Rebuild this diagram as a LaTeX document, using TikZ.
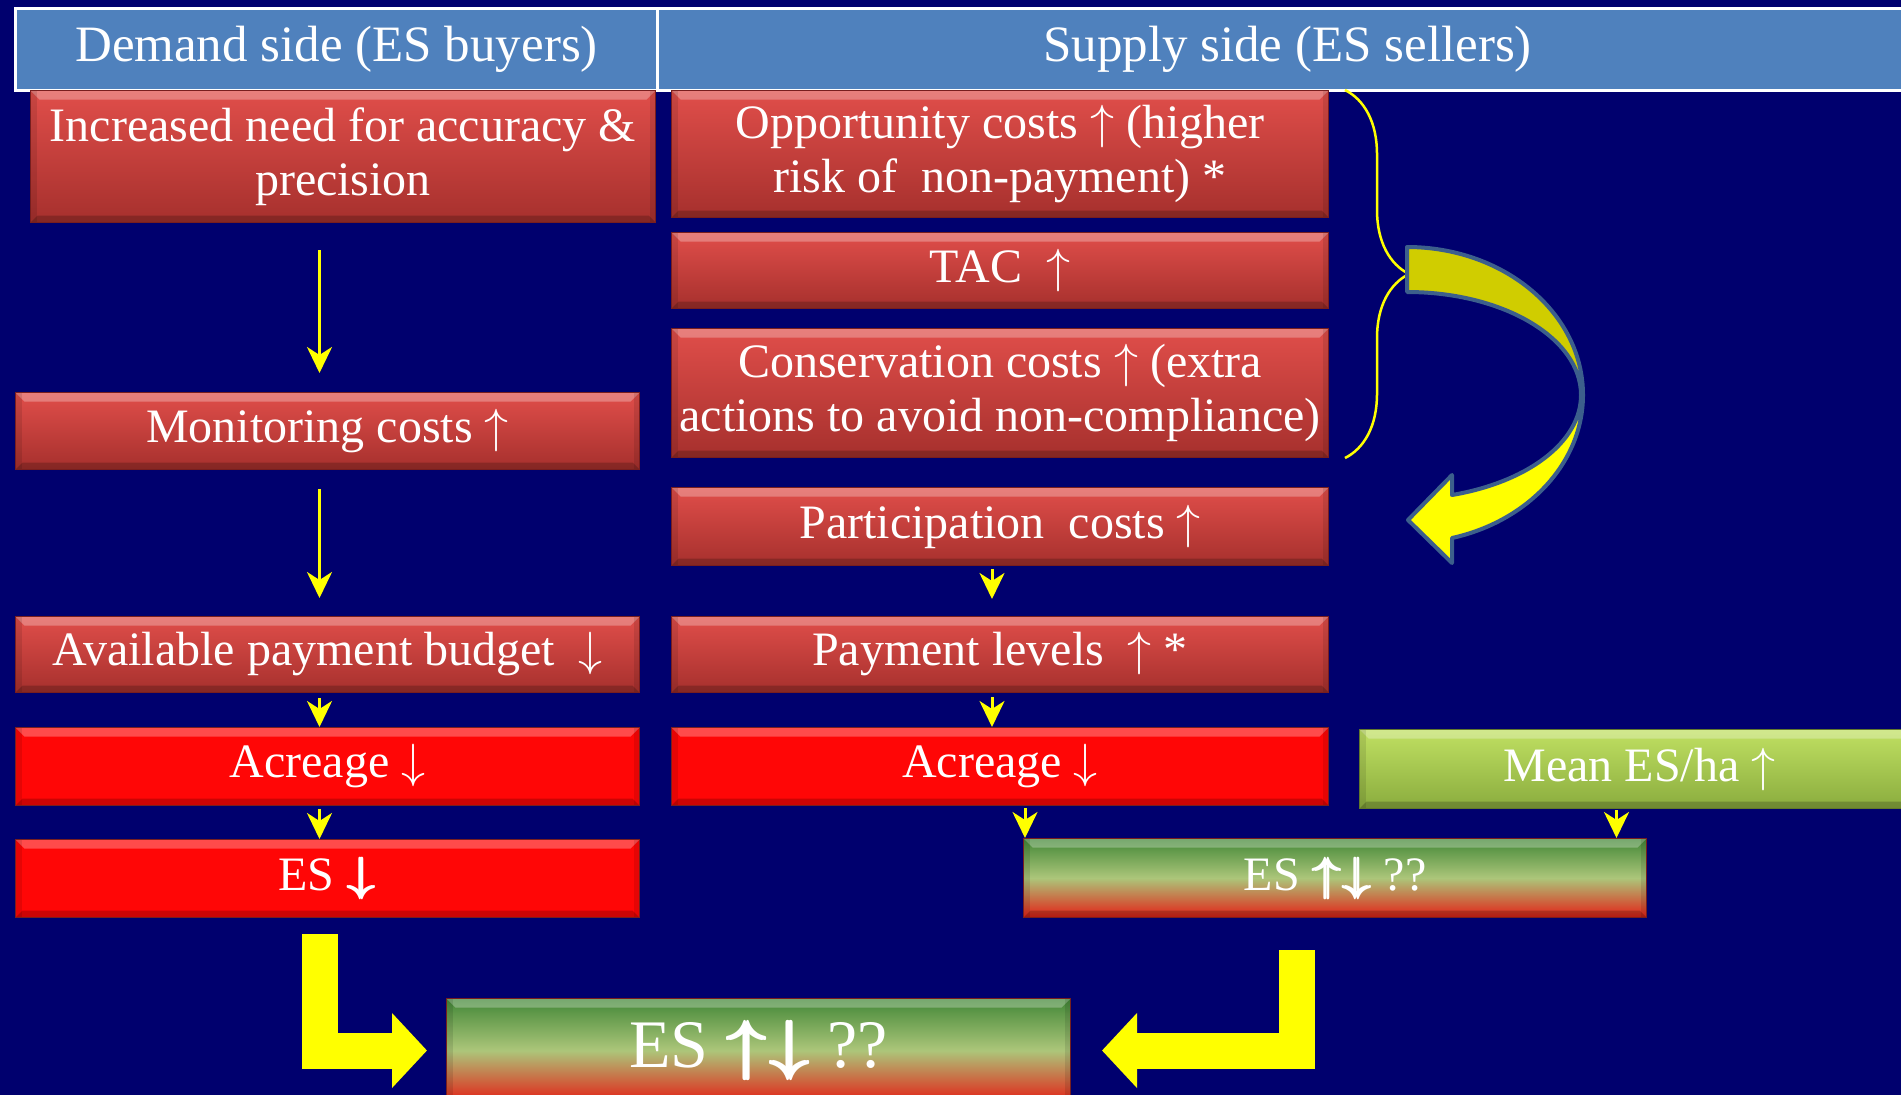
\RequirePackage{fix-cm}
\documentclass[tikz,border=0pt]{standalone}
\usepackage{bm}
\usepackage{fontspec}
\setmainfont{Liberation Serif}
\usetikzlibrary{arrows.meta,calc,decorations.pathreplacing}

\definecolor{bgnavy}{RGB}{0,0,110}
\definecolor{hdblue}{RGB}{79,129,189}
\definecolor{redtop}{RGB}{224,78,74}
\definecolor{redbot}{RGB}{166,48,45}
\definecolor{redline}{RGB}{120,30,30}
\definecolor{hotred}{RGB}{255,6,6}
\definecolor{mixtop}{RGB}{66,135,55}
\definecolor{mixmid}{RGB}{172,198,122}
\definecolor{mixbot}{RGB}{228,32,22}
\definecolor{limetop}{RGB}{192,224,98}
\definecolor{limebot}{RGB}{138,172,62}
\definecolor{yel}{RGB}{255,255,0}
\definecolor{backyel}{RGB}{208,205,0}
\definecolor{steel}{RGB}{60,95,140}

\newcommand{\upar}{\(\uparrow\)}
\newcommand{\dnar}{\(\downarrow\)}
\newcommand{\bupar}{\rlap{\(\bm{\uparrow}\)}\hspace{.05em}\(\bm{\uparrow}\)}
\newcommand{\bdnar}{\rlap{\(\bm{\downarrow}\)}\hspace{.05em}\(\bm{\downarrow}\)}

\begin{document}
\begin{tikzpicture}[x=1pt, y=-1pt,
  box/.style={anchor=north west, inner sep=0pt, align=center, text=white,
    font=\fontsize{48}{54}\selectfont, draw=redline, line width=1pt,
    path picture={
      \fill[white, opacity=.28] (path picture bounding box.north west) -- (path picture bounding box.north east)
        -- ([shift={(-9pt,-9pt)}]path picture bounding box.north east) -- ([shift={(9pt,-9pt)}]path picture bounding box.north west) -- cycle;
      \fill[black, opacity=.2] (path picture bounding box.south west) -- (path picture bounding box.south east)
        -- ([shift={(-7pt,7pt)}]path picture bounding box.south east) -- ([shift={(7pt,7pt)}]path picture bounding box.south west) -- cycle;
      \fill[black, opacity=.1] (path picture bounding box.north west) rectangle ([shift={(6pt,0pt)}]path picture bounding box.south west);
      \fill[black, opacity=.1] (path picture bounding box.north east) rectangle ([shift={(-6pt,0pt)}]path picture bounding box.south east);
    }},
  redbox/.style={box, top color=redtop, bottom color=redbot},
  hotbox/.style={box, fill=hotred},
  mixbox/.style={box, top color=mixtop, bottom color=mixbot, middle color=mixmid},
  limebox/.style={box, top color=limetop, bottom color=limebot, draw=limebot!70!black},
  hdcell/.style={anchor=north west, inner sep=0pt, fill=hdblue, draw=white, line width=3pt,
    text=white, font=\fontsize{51}{56}\selectfont, minimum height=82pt},
  yarr/.style={draw=yel, line width=3pt, -{Stealth[length=26pt, width=25pt, inset=8pt]}},
  bigarr/.style={draw=yel, line width=36pt, -{Triangle[length=35pt, width=73pt]}}]

\fill[bgnavy] (0,0) rectangle (1901,1095);
\useasboundingbox (0,0) rectangle (1901,1095);

% header
\node[hdcell, minimum width=642pt] (hdL) at (14,7) {Demand side (ES buyers)};
\node[hdcell, minimum width=1260pt] (hdR) at (656,7) {Supply side (ES sellers)};

% demand side
\node[redbox, minimum width=625pt, minimum height=132pt] (need) at (30,90) {Increased need for accuracy \&\\ precision};
\node[redbox, minimum width=624pt, minimum height=77pt] (mon) at (15,392) {Monitoring costs \upar};
\node[redbox, minimum width=624pt, minimum height=76pt] (avail) at (15,616) {Available payment budget \ \dnar};
\node[hotbox, minimum width=624pt, minimum height=78pt] (acrL) at (15,727) {Acreage \dnar};
\node[hotbox, minimum width=624pt, minimum height=78pt] (esL) at (15,839) {ES \bdnar};

% supply side
\node[redbox, minimum width=657pt, minimum height=127pt] (opp) at (671,90) {Opportunity costs \upar{} (higher\\ risk of \ non-payment) *};
\node[redbox, minimum width=657pt, minimum height=76pt] (tac) at (671,232) {TAC \ \upar};
\node[redbox, minimum width=657pt, minimum height=129pt] (cons) at (671,328) {Conservation costs \upar{} (extra\\ actions to avoid non-compliance)};
\node[redbox, minimum width=657pt, minimum height=78pt] (part) at (671,487) {Participation \ costs \upar};
\node[redbox, minimum width=657pt, minimum height=76pt] (pay) at (671,616) {Payment levels \ \upar{} *};
\node[hotbox, minimum width=657pt, minimum height=78pt] (acrR) at (671,727) {Acreage \dnar};
\node[limebox, minimum width=560pt, minimum height=79pt] (mean) at (1359,729) {Mean ES/ha \upar};
\node[mixbox, minimum width=623pt, minimum height=79pt] (esM) at (1023,838) {ES \bupar\bdnar{} ??};
\node[mixbox, minimum width=624pt, minimum height=104pt, font=\fontsize{68}{74}\selectfont] (esB) at (446,998) {ES \bupar\bdnar{} ??};

% thin arrows
\draw[yarr] ($(need.south -| mon.north)+(-8,27)$) -- ($(mon.north)+(-8,-19)$);
\draw[yarr] ($(mon.south)+(-8,19)$) -- ($(avail.north)+(-8,-18)$);
\draw[yarr] ($(avail.south)+(-8,5)$) -- ($(acrL.north)+(-8,0)$);
\draw[yarr] ($(acrL.south)+(-8,3)$) -- ($(esL.north)+(-8,0)$);
\draw[yarr] ($(part.south)+(-8,3)$) -- ($(pay.north)+(-8,-17)$);
\draw[yarr] ($(pay.south)+(-8,4)$) -- ($(acrR.north)+(-8,0)$);
\draw[yarr] ($(acrR.south -| esM.north west)+(2,2)$) -- ($(esM.north west)+(2,0)$);
\draw[yarr] ($(mean.south)+(-23,1)$) -- ($(mean.south |- esM.north)+(-23,0)$);

% brace over the three cost boxes
\draw[yel, line width=2.5pt, decorate, decoration={brace, amplitude=64pt, aspect=0.5}]
  ($(opp.north east)+(16,0)$) -- ($(cons.south east)+(16,0)$);

% curved arrow into participation costs
\filldraw[fill=backyel, draw=steel, line width=4pt, line join=round]
  (1407,247) .. controls (1504,247) and (1583,313) .. (1583,395) -- (1581,395)
  .. controls (1581,338) and (1503,292) .. (1407,292) -- cycle;
\filldraw[fill=yel, draw=steel, line width=4pt, line join=round]
  (1583,395) .. controls (1583,462) and (1529,521) .. (1452,538) -- (1452,563) -- (1408,520)
  -- (1452,475) -- (1452,495) .. controls (1528,482) and (1581,442) .. (1581,395) -- cycle;

% big arrows into the result
\draw[bigarr] ($(esL.south)+(-8,16)$) |- ($(esB.west)+(-19,0)$);
\draw[bigarr] ($(esM.south)+(-38,32)$) |- ($(esB.east)+(31,0)$);
\end{tikzpicture}
\end{document}
